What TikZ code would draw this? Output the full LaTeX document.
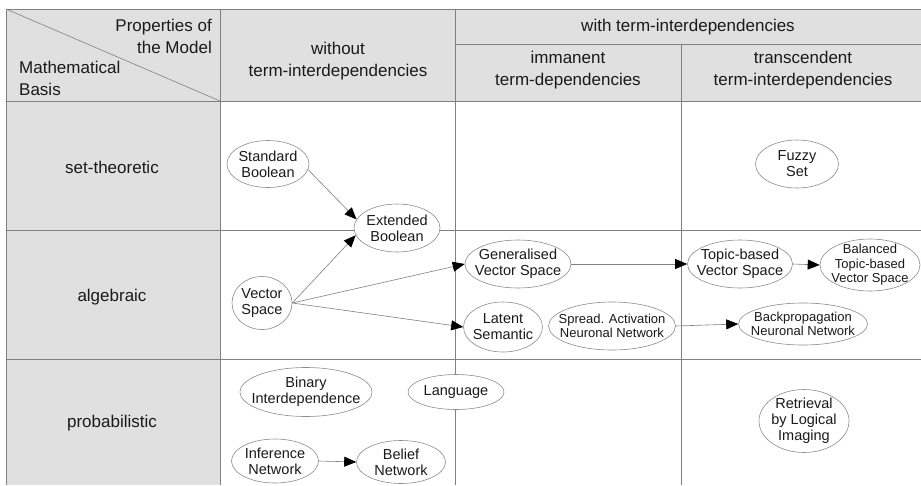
\documentclass[tikz,border=0pt]{standalone}
\usepackage{fontspec}
\setmainfont{Liberation Sans}
\usetikzlibrary{shapes.geometric,arrows.meta}
\definecolor{hdr}{HTML}{E0E0E0}
\definecolor{gridc}{HTML}{808080}
\definecolor{elc}{HTML}{8C8C8C}
\definecolor{txt}{HTML}{1A1A1A}
\begin{document}
\begin{tikzpicture}[x=1pt,y=-1pt,
  el/.style={ellipse,draw=elc,fill=white,inner sep=0pt,line width=0.6pt},
  lbl/.style={align=center,text=txt,inner sep=0pt,font=\fontsize{14.5}{16}\selectfont},
  lbls/.style={align=center,text=txt,inner sep=0pt,font=\fontsize{13}{14.5}\selectfont},
  hd/.style={align=center,text=txt,inner sep=0pt,font=\fontsize{17}{22}\selectfont},
  gridline/.style={draw=gridc,line width=0.8pt},
  conn/.style={draw=gridc,line width=0.6pt,-{Triangle[length=12pt,width=10pt,color=black]}}]
\useasboundingbox (0,0) rectangle (921,485);
% backgrounds
\fill[hdr] (6,9) rectangle (921,101);
\fill[hdr] (6,101) rectangle (220,485);
% grid
\draw[gridline] (6,9) -- (921,9);
\draw[gridline] (6,9) -- (6,485);
\draw[gridline] (220,9) -- (220,485);
\draw[gridline] (455,9) -- (455,485);
\draw[gridline] (681,44) -- (681,485);
\draw[gridline] (455,44) -- (921,44);
\draw[gridline] (6,101) -- (921,101);
\draw[gridline] (6,230) -- (921,230);
\draw[gridline] (6,359) -- (921,359);
\draw[draw=gridc,line width=0.6pt] (6,9) -- (220,101);
% header texts
\node[hd,align=right,anchor=east] (props) at (212,36) {Properties of\\the Model};
\node[hd,align=left,anchor=west] (math) at (19,78) {Mathematical\\Basis};
\node[hd] (without) at (338,61) {without\\term-interdependencies};
\node[hd] (with) at (688,27) {with term-interdependencies};
\node[hd] (imm) at (568,70) {immanent\\term-dependencies};
\node[hd] (trans) at (803,70) {transcendent\\term-interdependencies};
% row labels
\node[hd] (rset) at (112,167) {set-theoretic};
\node[hd] (ralg) at (112,297) {algebraic};
\node[hd] (rprob) at (112,423) {probabilistic};
% ellipses
\node[el,minimum width=82pt,minimum height=47pt] (sb) at (268,164) {};
\node[lbl] at (sb) {Standard\\Boolean};
\node[el,minimum width=86pt,minimum height=48pt] (eb) at (397,228) {};
\node[lbl] at (eb) {Extended\\Boolean};
\node[el,minimum width=83pt,minimum height=48pt] (fs) at (797,164) {};
\node[lbl] at (fs) {Fuzzy\\Set};
\node[el,minimum width=60pt,minimum height=53pt] (vs) at (262,303) {};
\node[lbl] at (vs) {Vector\\Space};
\node[el,minimum width=106pt,minimum height=48pt] (gvs) at (518,264) {};
\node[lbl] at (gvs) {Generalised\\Vector Space};
\node[el,minimum width=105pt,minimum height=48pt] (tvs) at (740,264) {};
\node[lbl] at (tvs) {Topic-based\\Vector Space};
\node[el,minimum width=100pt,minimum height=52pt] (btvs) at (870,265) {};
\node[lbls] at (btvs) {Balanced\\Topic-based\\Vector Space};
\node[el,minimum width=79pt,minimum height=50pt] (ls) at (503,327) {};
\node[lbl] at (ls) {Latent\\Semantic};
\node[el,minimum width=127pt,minimum height=48pt] (sann) at (612,326) {};
\node[lbls] at (sann) {Spread. Activation\\Neuronal Network};
\node[el,minimum width=129pt,minimum height=42pt] (bpnn) at (803,324) {};
\node[lbls] at (bpnn) {Backpropagation\\Neuronal Network};
\node[el,minimum width=132pt,minimum height=49pt] (bi) at (306,392) {};
\node[lbl] at (bi) {Binary\\Interdependence};
\node[el,minimum width=96pt,minimum height=35pt] (lang) at (456,392) {};
\node[lbl] at (lang) {Language};
\node[el,minimum width=87pt,minimum height=44pt] (inf) at (275,461) {};
\node[lbl] at (inf) {Inference\\Network};
\node[el,minimum width=89pt,minimum height=43pt] (bel) at (401,462) {};
\node[lbl] at (bel) {Belief\\Network};
\node[el,minimum width=90pt,minimum height=63pt] (rli) at (804,421) {};
\node[lbl] at (rli) {Retrieval\\by Logical\\Imaging};
% connectors
\draw[conn] (sb.-8) -- (eb.168);
\draw[conn] (vs.east) -- (eb.190);
\draw[conn] (vs.east) -- (gvs.west);
\draw[conn] (vs.east) -- (ls.west);
\draw[conn] (gvs.east) -- (tvs.west);
\draw[conn] (tvs.east) -- (btvs.west);
\draw[conn] (sann.east) -- (bpnn.west);
\draw[conn] (inf.east) -- (bel.west);
\end{tikzpicture}
\end{document}
